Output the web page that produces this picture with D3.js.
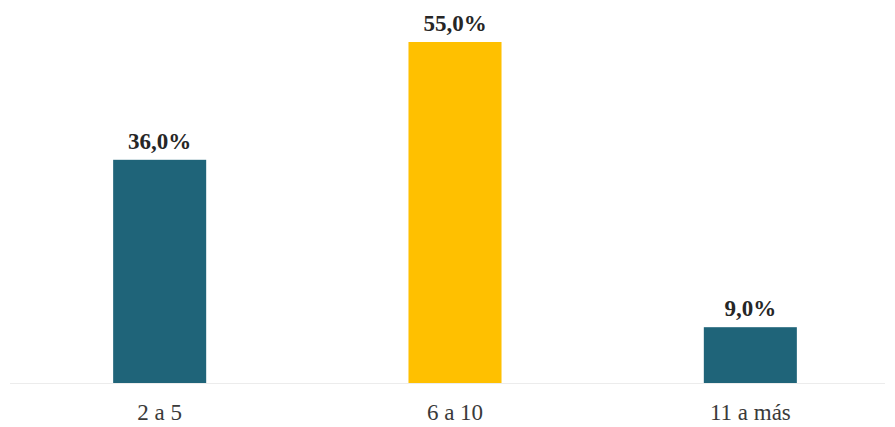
<!DOCTYPE html>
<html>
<head>
<meta charset="utf-8">
<script src="https://cdn.jsdelivr.net/npm/d3@7"></script>
<style>
  html, body { margin: 0; padding: 0; background: #ffffff; }
  svg { display: block; }
</style>
</head>
<body>
<div id="chart"></div>
<script>
// Distribution by range
const categories = ["2 a 5", "6 a 10", "11 a más"];
const values = [36.0, 55.0, 9.0];
const colors = ["#1f6479", "#ffc000", "#1f6479"];

const width = 895, height = 427;
const baseline = 383, plotTop = 42;

const svg = d3.select("#chart").append("svg")
  .attr("width", width)
  .attr("height", height);

const x = d3.scaleBand()
  .domain(categories)
  .range([12, 898])
  .paddingInner(0.685)
  .paddingOuter(0.3425);

const y = d3.scaleLinear()
  .domain([0, 55])
  .range([baseline, plotTop]);

const fmt = v => d3.format(".1f")(v).replace(".", ",") + "%";
const serif = "'Liberation Serif', 'DejaVu Serif', serif";

// baseline
svg.append("line")
  .attr("x1", 10).attr("x2", 885)
  .attr("y1", baseline + 0.5).attr("y2", baseline + 0.5)
  .attr("stroke", "#ececec")
  .attr("stroke-width", 1);

const data = categories.map((c, i) => ({ c, v: values[i], color: colors[i] }));

svg.selectAll("rect.bar")
  .data(data)
  .join("rect")
  .attr("class", "bar")
  .attr("x", d => x(d.c))
  .attr("width", x.bandwidth())
  .attr("y", d => y(d.v))
  .attr("height", d => y(0) - y(d.v))
  .attr("fill", d => d.color);

svg.selectAll("text.value")
  .data(data)
  .join("text")
  .attr("class", "value")
  .attr("x", d => x(d.c) + x.bandwidth() / 2)
  .attr("y", d => y(d.v) - 11)
  .attr("text-anchor", "middle")
  .attr("font-family", serif)
  .attr("font-weight", "bold")
  .attr("font-size", 23)
  .attr("fill", "#262626")
  .text(d => fmt(d.v));

// category axis
const xAxis = d3.axisBottom(x).tickSize(0).tickPadding(0);
const gx = svg.append("g")
  .attr("transform", `translate(0,${baseline})`)
  .call(xAxis);
gx.select(".domain").remove();
gx.selectAll("text")
  .attr("dy", null)
  .attr("y", 37)
  .attr("font-family", serif)
  .attr("font-size", 23)
  .attr("fill", "#3a3a3a");
</script>
</body>
</html>
